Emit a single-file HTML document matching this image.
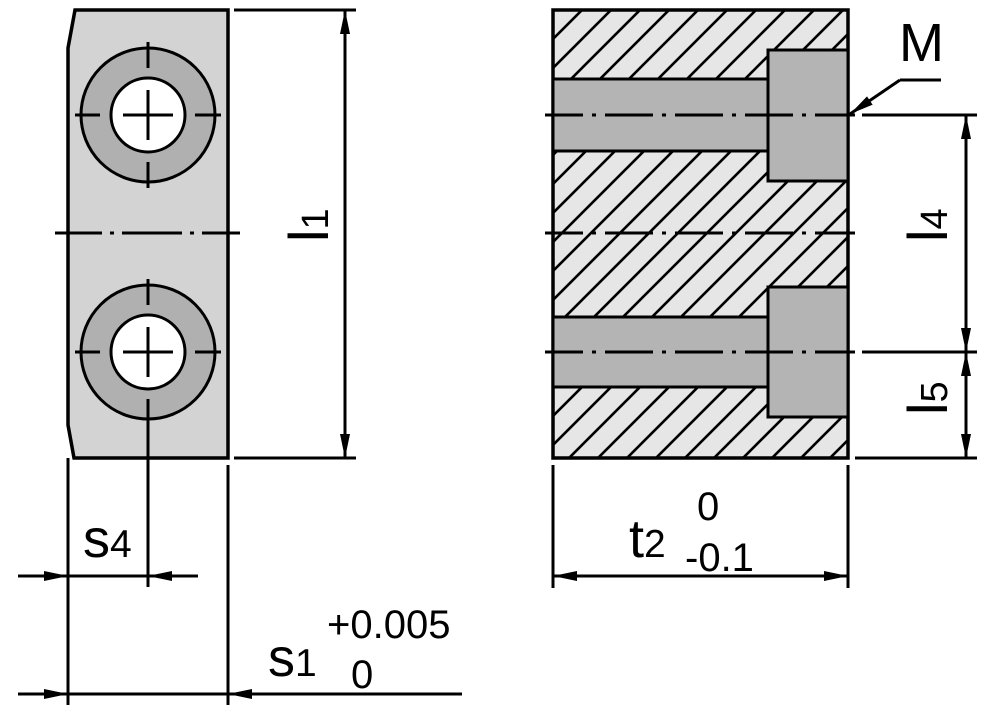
<!DOCTYPE html>
<html><head><meta charset="utf-8"><style>
html,body{margin:0;padding:0;background:#fff;}
svg{display:block;}
text{font-family:"Liberation Sans",sans-serif;fill:#000;}
</style></head><body>
<svg width="1000" height="714" viewBox="0 0 1000 714" xmlns="http://www.w3.org/2000/svg">
<defs>
<pattern id="h" patternUnits="userSpaceOnUse" width="29" height="29" x="553" y="10">
<rect width="29" height="29" fill="#e6e6e6"/>
<path d="M-2,31 L31,-2 M-31,31 L2,-2 M27,31 L60,-2" stroke="#000" stroke-width="2.6"/>
</pattern>
<marker id="a" markerWidth="24" markerHeight="10" refX="24" refY="5" orient="auto" markerUnits="userSpaceOnUse">
<path d="M0,0 L24,5 L0,10 Z" fill="#000"/>
</marker>
</defs>

<!-- LEFT PART -->
<path d="M75,10 L228,10 L228,458 L74,458 L68,425 L68,48 Z" fill="#d3d3d3" stroke="#000" stroke-width="3.5"/>
<g stroke="#000" stroke-width="3">
<circle cx="148" cy="115" r="67" fill="#b0b0b0"/>
<circle cx="148" cy="115" r="37" fill="#fff"/>
<circle cx="148" cy="352" r="67" fill="#b0b0b0"/>
<circle cx="148" cy="352" r="37" fill="#fff"/>
</g>
<g stroke="#000" stroke-width="3">
<path d="M148,42 V68 M148,90 V140 M148,162 V188 M75,115 H100 M123,115 H173 M195,115 H221"/>
<path d="M148,279 V305 M148,327 V377 M148,399 V458 M75,352 H100 M123,352 H173 M195,352 H221"/>
<path d="M55,233 H102 M110,233 H114 M122,233 H182 M190,233 H194 M202,233 H240"/>
</g>
<!-- l1 dim -->
<g stroke="#000" stroke-width="3" fill="none">
<path d="M234,10 H356 M234,458 H356"/>
<line x1="345" y1="234" x2="345" y2="10" marker-end="url(#a)"/>
<line x1="345" y1="234" x2="345" y2="458" marker-end="url(#a)"/>
</g>
<text transform="translate(328,242) rotate(-90)" font-size="56">l<tspan font-size="38">1</tspan></text>

<!-- bottom dims left -->
<g stroke="#000" stroke-width="3" fill="none">
<path d="M68,458 V705 M148,458 V587 M228,465 V705"/>
<line x1="18" y1="576" x2="68" y2="576" marker-end="url(#a)"/>
<line x1="68" y1="576" x2="148" y2="576"/>
<line x1="198" y1="576" x2="148" y2="576" marker-end="url(#a)"/>
<line x1="18" y1="694" x2="68" y2="694" marker-end="url(#a)"/>
<line x1="68" y1="694" x2="228" y2="694"/>
<line x1="462" y1="694" x2="228" y2="694" marker-end="url(#a)"/>
</g>
<text x="83" y="557" font-size="54">s<tspan font-size="39">4</tspan></text>
<text x="268" y="676" font-size="54">s<tspan font-size="39">1</tspan></text>
<text x="327" y="638" font-size="40">+0.005</text>
<text x="351" y="688" font-size="40">0</text>

<!-- RIGHT PART -->
<rect x="553" y="10" width="295" height="448" fill="url(#h)" stroke="#000" stroke-width="3.5"/>
<g fill="#b4b4b4" stroke="#000" stroke-width="3">
<rect x="553" y="79" width="215" height="72"/>
<rect x="768" y="50" width="80" height="131"/>
<rect x="553" y="317" width="215" height="70"/>
<rect x="768" y="287" width="80" height="130"/>
</g>
<g stroke="#000" stroke-width="3">
<path d="M545,115 H583 M592,115 H596 M605,115 H653 M662,115 H666 M675,115 H723 M732,115 H736 M745,115 H793 M802,115 H806 M815,115 H855"/>
<path d="M545,352 H583 M592,352 H596 M605,352 H653 M662,352 H666 M675,352 H723 M732,352 H736 M745,352 H793 M802,352 H806 M815,352 H855"/>
<path d="M545,233 H583 M592,233 H596 M605,233 H653 M662,233 H666 M675,233 H723 M732,233 H736 M745,233 H793 M802,233 H806 M815,233 H855"/>
</g>
<!-- right dims -->
<g stroke="#000" stroke-width="3" fill="none">
<path d="M862,115 H977 M862,352 H977 M855,458 H977"/>
<line x1="966" y1="234" x2="966" y2="115" marker-end="url(#a)"/>
<line x1="966" y1="234" x2="966" y2="352" marker-end="url(#a)"/>
<line x1="966" y1="405" x2="966" y2="352" marker-end="url(#a)"/>
<line x1="966" y1="405" x2="966" y2="458" marker-end="url(#a)"/>
<path d="M941,80 H900"/>
<line x1="900" y1="80" x2="850" y2="114" marker-end="url(#a)"/>
<path d="M553,465 V588 M848,465 V588"/>
<line x1="700" y1="576" x2="553" y2="576" marker-end="url(#a)"/>
<line x1="700" y1="576" x2="848" y2="576" marker-end="url(#a)"/>
</g>
<text x="899" y="61" font-size="54">M</text>
<text transform="translate(947,242) rotate(-90)" font-size="56">l<tspan font-size="38">4</tspan></text>
<text transform="translate(947,415) rotate(-90)" font-size="56">l<tspan font-size="38">5</tspan></text>
<text x="629" y="557" font-size="54">t<tspan font-size="39">2</tspan></text>
<text x="697" y="520" font-size="40">0</text>
<text x="685" y="571" font-size="40">-0.1</text>
</svg>
</body></html>
